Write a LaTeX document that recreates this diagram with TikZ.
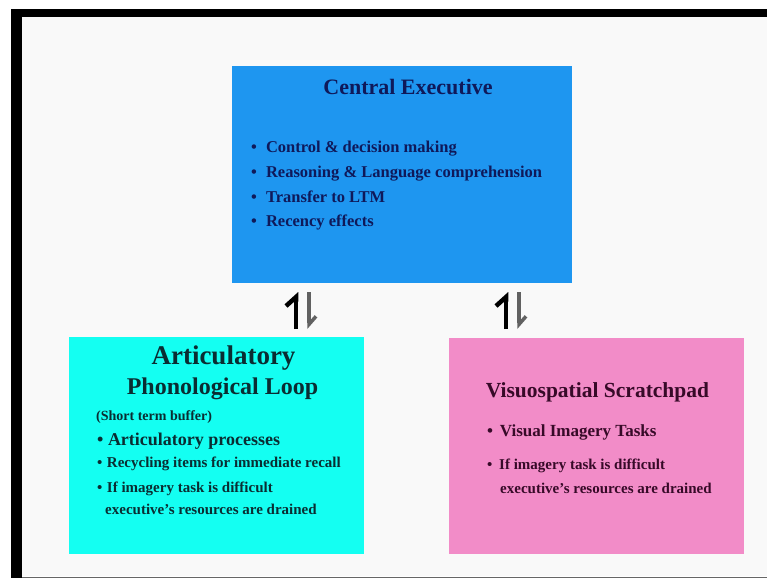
\documentclass[tikz,border=0pt]{standalone}
\usepackage{fontspec}
\setmainfont{Liberation Serif}
\usepackage{tikz}
\usetikzlibrary{arrows.meta}

\definecolor{slidebg}{RGB}{249,249,249}
\definecolor{ceblue}{RGB}{30,150,240}
\definecolor{plcyan}{RGB}{20,255,242}
\definecolor{vspink}{RGB}{242,140,200}
\definecolor{cetext}{RGB}{15,25,90}
\definecolor{pltext}{RGB}{10,45,50}
\definecolor{vstext}{RGB}{55,10,40}

\newcommand{\fsz}[1]{\fontsize{#1}{#1}\selectfont\bfseries}
\newcommand{\bul}[1]{\textbullet\hspace{#1}}

\tikzset{
	box/.style={rectangle, inner sep=0pt, draw=none},
	ttl/.style={inner sep=0pt, anchor=base},
	txt/.style={inner sep=0pt, anchor=base west},
	uparr/.style={line width=4.5pt, black, -{Straight Barb[harpoon,length=9pt,width=20pt]}},
	dnarr/.style={line width=3.5pt, black!62, -{Straight Barb[harpoon,length=8pt,width=14pt]}}
}

\begin{document}
\begin{tikzpicture}[x=1pt,y=-1pt]
				\useasboundingbox (0,0) rectangle (767,578);
				%Frame
				\fill[white] (0,0) rectangle (767,578);
				\fill[black] (11,9) rectangle (767,17);
				\fill[black] (11,9) rectangle (22,578);
				\fill[slidebg] (22,17) rectangle (767,576);
				\draw[black!60] (22,577) -- (767,577);

				%Boxes
				\node[box, fill=ceblue, minimum width=340pt, minimum height=217pt] (central) at (402,174.5) {};
				\node[box, fill=plcyan, minimum width=295pt, minimum height=217pt] (phono) at (216.5,445.5) {};
				\node[box, fill=vspink, minimum width=295pt, minimum height=216pt] (visuo) at (596.5,446) {};

				%Central executive
				\node[ttl, text=cetext, font=\fsz{22}] (cetitle) at (408,94) {Central Executive};
				\node[txt, text=cetext, font=\fsz{16.5}] (ce1) at (251,152) {\bul{0.55em}Control \& decision making};
				\node[txt, text=cetext, font=\fsz{16.5}] (ce2) at (251,177) {\bul{0.55em}Reasoning \& Language comprehension};
				\node[txt, text=cetext, font=\fsz{16.5}] (ce3) at (251,202) {\bul{0.55em}Transfer to LTM};
				\node[txt, text=cetext, font=\fsz{16.5}] (ce4) at (251,226) {\bul{0.55em}Recency effects};

				%Phonological loop
				\node[ttl, text=pltext, font=\fsz{27}] (pltitle) at (223.5,364) {Articulatory};
				\node[ttl, text=pltext, font=\fsz{24}] (plsub) at (222.5,394) {Phonological Loop};
				\node[txt, text=pltext, font=\fsz{14}] (plnote) at (96,420) {(Short term buffer)};
				\node[txt, text=pltext, font=\fsz{18}] (pl1) at (97,445) {\bul{0.25em}Articulatory processes};
				\node[txt, text=pltext, font=\fsz{15}] (pl2) at (97,467) {\bul{0.3em}Recycling items for immediate recall};
				\node[txt, text=pltext, font=\fsz{15}] (pl3) at (97,492) {\bul{0.3em}If imagery task is difficult};
				\node[txt, text=pltext, font=\fsz{15}] (pl3b) at (105,514) {executive's resources are drained};

				%Visuospatial scratchpad
				\node[ttl, text=vstext, font=\fsz{21.5}] (vstitle) at (597.5,397) {Visuospatial Scratchpad};
				\node[txt, text=vstext, font=\fsz{17}] (vs1) at (487,436) {\bul{0.4em}Visual Imagery Tasks};
				\node[txt, text=vstext, font=\fsz{15}] (vs2) at (487,469) {\bul{0.45em}If imagery task is difficult};
				\node[txt, text=vstext, font=\fsz{15}] (vs2b) at (500,493) {executive's resources are drained};

				%Arrows
				\coordinate (upa) at (296,329);
				\coordinate (upb) at (296,292);
				\coordinate (dna) at (309,292);
				\coordinate (dnb) at (309,329);
				\coordinate (upc) at (506,329);
				\coordinate (upd) at (506,292);
				\coordinate (dnc) at (519,292);
				\coordinate (dnd) at (519,329);
				\draw[uparr] (upa) -- (upb);
				\draw[dnarr] (dna) -- (dnb);
				\draw[uparr] (upc) -- (upd);
				\draw[dnarr] (dnc) -- (dnd);

		\end{tikzpicture}
\end{document}
